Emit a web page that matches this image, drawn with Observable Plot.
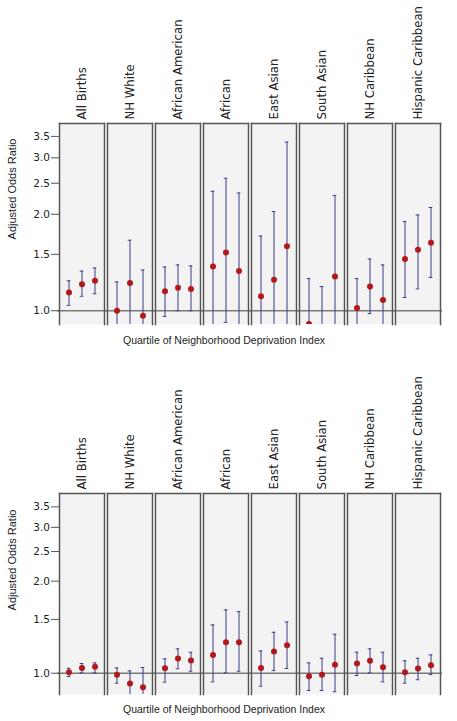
<!DOCTYPE html>
<html><head><meta charset="utf-8">
<script src="https://cdn.jsdelivr.net/npm/d3@7"></script>
<script src="https://cdn.jsdelivr.net/npm/@observablehq/plot@0.6"></script>
<style>
html,body{margin:0;padding:0;background:#fff;overflow:hidden;}
#wrap{position:relative;width:457px;height:721px;overflow:hidden;background:#fff;}
.panel{position:absolute;left:0;max-width:none !important;}
.ylab{position:absolute;font-family:"Liberation Sans",Arial,sans-serif;font-size:11px;color:#222;white-space:nowrap;transform:translate(-50%,-50%) rotate(-90deg);}
.xlab{position:absolute;font-family:"Liberation Sans",Arial,sans-serif;font-size:10.5px;color:#222;white-space:nowrap;transform:translate(-50%,-50%);}
</style></head>
<body><div id="wrap"></div>
<script>
const facets = ["All Births","NH White","African American","African","East Asian","South Asian","NH Caribbean","Hispanic Caribbean","Other"];
const quartiles = ["Q2","Q3","Q4"];
const yTicks = [1.0,1.5,2.0,2.5,3.0,3.5];
const axisTitleY = "Adjusted Odds Ratio";
const axisTitleX = "Quartile of Neighborhood Deprivation Index";

// Panel 1 (top): odds ratios, lower and upper 95% CI (Q2, Q3, Q4 per group)
const topOR = [1.14,1.21,1.24, 1.00,1.22,0.965, 1.15,1.18,1.17, 1.375,1.52,1.33, 1.11,1.25,1.59, 0.91,0.86,1.28, 1.02,1.19,1.08, 1.45,1.55,1.63];
const topLo = [1.04,1.11,1.13, 0.81,0.85,0.70, 0.96,1.00,1.00, 0.80,0.92,0.76, 0.72,0.77,0.75, 0.66,0.62,0.72, 0.83,0.98,0.84, 1.10,1.17,1.27];
const topHi = [1.24,1.33,1.36, 1.23,1.66,1.34, 1.37,1.39,1.38, 2.36,2.59,2.33, 1.71,2.04,3.36, 1.26,1.19,2.29, 1.26,1.45,1.39, 1.90,1.99,2.10];

// Panel 2 (bottom)
const botOR = [1.008,1.041,1.049, 0.988,0.925,0.90, 1.038,1.117,1.10, 1.148,1.262,1.262, 1.041,1.177,1.234, 0.978,0.988,1.065, 1.076,1.098,1.046, 1.008,1.036,1.062];
const botLo = [0.975,1.003,1.003, 0.928,0.85,0.78, 0.935,1.034,1.015, 0.937,1.003,1.015, 0.907,1.02,1.036, 0.878,0.878,0.87, 0.983,1.003,0.937, 0.928,0.952,0.99];
const botHi = [1.038,1.076,1.081, 1.041,1.018,1.044, 1.114,1.201,1.171, 1.439,1.611,1.59, 1.183,1.361,1.471, 1.081,1.119,1.341, 1.171,1.201,1.171, 1.098,1.119,1.148];

const headFont = '"DejaVu Sans",sans-serif';
const barColor = "#3d3d88";

function panel(or, lo, hi, yDomain, marginTop, height) {
  const data = [];
  facets.slice(0,8).forEach((g,i)=>quartiles.forEach((q,j)=>{
    data.push({group:g, q, or: or[i*3+j], lo: lo[i*3+j], hi: hi[i*3+j]});
  }));
  const boxH = 201;
  return Plot.plot({
    width: 491, height, marginLeft: 57, marginRight: 0, marginTop, marginBottom: height - marginTop - boxH,
    style: {fontFamily: headFont, fontSize: "10px", color: "#222", background: "transparent", overflow: "visible", maxWidth: "none"},
    fx: {domain: facets, paddingInner: 0.062, paddingOuter: 0, label: null},
    x: {domain: quartiles, type: "band", paddingInner: 0.9, paddingOuter: 0.58, axis: null},
    y: {type: "log", domain: yDomain, label: null},
    marks: [
      Plot.frame({fill: "#f3f3f3"}),
      Plot.ruleY([1], {stroke: "#7a7a7a", strokeWidth: 1.5, insetLeft: -2, insetRight: -2}),
      Plot.ruleX(data, {fx: "group", x: "q", y1: "lo", y2: "hi", stroke: barColor, strokeWidth: 1, clip: true}),
      Plot.tickY(data, {fx: "group", x: "q", y: "lo", stroke: barColor, strokeWidth: 1, insetLeft: -1.3, insetRight: -1.3, clip: true}),
      Plot.tickY(data, {fx: "group", x: "q", y: "hi", stroke: barColor, strokeWidth: 1, insetLeft: -1.3, insetRight: -1.3, clip: true}),
      Plot.dot(data, {fx: "group", x: "q", y: "or", r: 3, fill: "#b3191b", clip: true}),
      Plot.frame({anchor: "left", stroke: "#555", strokeWidth: 1.5}),
      Plot.frame({anchor: "right", stroke: "#555", strokeWidth: 1.5}),
      Plot.frame({anchor: "top", stroke: "#555", strokeWidth: 1.5}),
      Plot.axisFx({anchor: "top", tickRotate: -90, tickSize: 0, tickPadding: 4, fontSize: 11.7, fontFamily: headFont, label: null,
        tickFormat: d => d === "Other" ? "" : d}),
      Plot.axisY({ticks: yTicks, tickFormat: d => d.toFixed(1), tickSize: 8, tickPadding: 1.5, label: null, stroke: "#555", fontSize: 10.5})
    ]
  });
}

const wrap = document.getElementById("wrap");
const p1 = panel(topOR, topLo, topHi, [0.906, 3.84], 123, 360);
p1.classList.add("panel"); p1.style.top = "0px";
wrap.appendChild(p1);
const p2 = panel(botOR, botLo, botHi, [0.852, 3.87], 133, 361);
p2.classList.add("panel"); p2.style.top = "360px";
wrap.appendChild(p2);

function label(cls, text, x, y) {
  const d = document.createElement("div");
  d.className = cls; d.textContent = text;
  d.style.left = x + "px"; d.style.top = y + "px";
  wrap.appendChild(d);
}
label("ylab", axisTitleY, 11.5, 189);
label("ylab", axisTitleY, 11.5, 559.5);
label("xlab", axisTitleX, 224, 340);
label("xlab", axisTitleX, 224, 709);
</script>
</body></html>
